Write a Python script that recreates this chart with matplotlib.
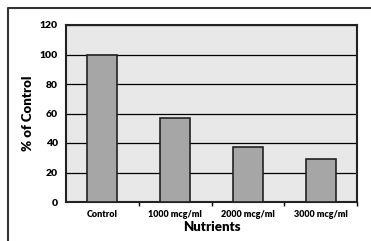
import matplotlib
matplotlib.use('Agg')
import matplotlib.pyplot as plt
from matplotlib.lines import Line2D

categories = ['Control', '1000 mcg/ml', '2000 mcg/ml', '3000 mcg/ml']
values = [100, 57, 37, 29]
yticks = [0, 20, 40, 60, 80, 100, 120]

plt.rcParams['font.family'] = ['Lato', 'DejaVu Sans']

fig = plt.figure(figsize=(3.71, 2.41), dpi=100)
fig.patch.set_facecolor('white')

# outer frame: only left and top edges are inside the image
fl, ft = 8/371, 1 - 8/241
fig.lines.append(Line2D([fl, fl, 1.0], [0.0, ft, ft], transform=fig.transFigure,
                        color='#333333', linewidth=1.5))

ax = fig.add_axes([66/371, (241-202)/241, 291/371, 177/241])
ax.set_facecolor('#e8e8e8')
x = range(len(categories))
ax.bar(x, values, width=0.41, color='#a6a6a6', edgecolor='#222222',
       linewidth=1.2, zorder=3)
ax.set_xlim(-0.5, 3.5)
ax.set_ylim(0, 120)
ax.set_yticks(yticks)
ax.set_yticklabels([str(t) for t in yticks], fontsize=7.5, fontweight='heavy')
ax.tick_params(axis='y', length=0, pad=6)
ax.yaxis.grid(True, color='black', linewidth=0.9, zorder=1)
ax.set_axisbelow(True)

ax.set_xticks([i + 0.5 for i in x])
ax.set_xticklabels([])
ax.set_xticks(list(x), minor=True)
ax.set_xticklabels(categories, minor=True, fontsize=6.5, fontweight='heavy')
ax.tick_params(axis='x', which='major', length=3, width=1, direction='out')
ax.tick_params(axis='x', which='minor', length=0, pad=6)

for s in ax.spines.values():
    s.set_linewidth(1.5)
    s.set_color('#222222')

ax.set_ylabel('% of Control', fontsize=9.5, fontweight='heavy', labelpad=4)
ax.set_xlabel('Nutrients', fontsize=9.5, fontweight='heavy', labelpad=1)

fig.savefig('out.png', dpi=100)
